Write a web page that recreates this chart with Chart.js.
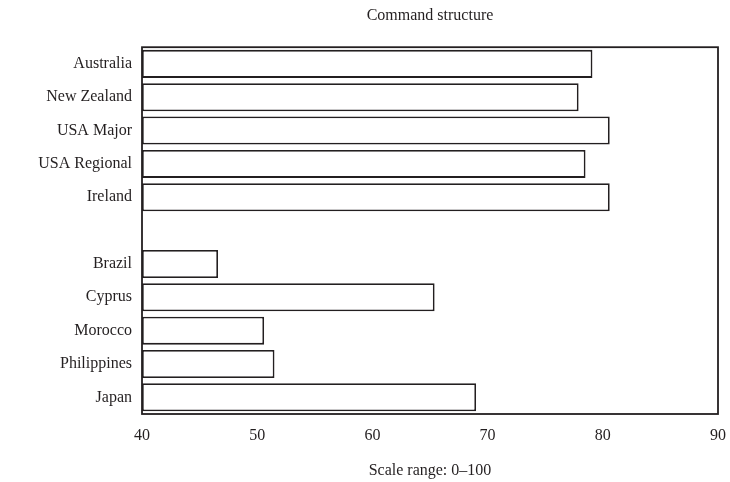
<!DOCTYPE html>
<html>
<head>
<meta charset="utf-8">
<script src="https://cdn.jsdelivr.net/npm/chart.js@4"></script>
<style>
  html, body { margin: 0; padding: 0; background: #fff; }
  #wrap { width: 730px; height: 482px; }
</style>
</head>
<body>
<div id="wrap"><canvas id="cmdChart" width="730" height="482"></canvas></div>
<script>
// categories (empty label = gap between the two groups)
const countries = ['Australia', 'New Zealand', 'USA Major', 'USA Regional', 'Ireland', '',
  'Brazil', 'Cyprus', 'Morocco', 'Philippines', 'Japan'];
const scores = [79.1, 77.9, 80.6, 78.5, 80.6, null, 46.6, 65.4, 50.6, 51.5, 69.0];
const xMin = 40, xMax = 90, xStep = 10;

const ink = '#231f20';
const serif = '"Liberation Serif", "Times New Roman", serif';

// box around the plot area
const frame = {
  id: 'frame',
  afterDatasetsDraw(chart) {
    const { ctx, chartArea: a } = chart;
    ctx.save();
    ctx.strokeStyle = ink;
    ctx.lineWidth = 1.8;
    ctx.strokeRect(a.left, a.top, a.right - a.left, a.bottom - a.top);
    ctx.restore();
  }
};

Chart.defaults.font.family = serif;
Chart.defaults.font.size = 16;
Chart.defaults.color = ink;

new Chart(document.getElementById('cmdChart').getContext('2d'), {
  type: 'bar',
  data: {
    labels: countries,
    datasets: [{
      data: scores,
      base: xMin,
      backgroundColor: '#fff',
      borderColor: ink,
      borderWidth: 1.8,
      borderSkipped: false,
      barPercentage: 0.84,
      categoryPercentage: 1
    }]
  },
  options: {
    indexAxis: 'y',
    responsive: false,
    animation: false,
    layout: { padding: { left: 0, right: 12, top: 0, bottom: 0 } },
    plugins: {
      legend: { display: false },
      tooltip: { enabled: false },
      title: {
        display: true,
        fullSize: false,
        text: 'Command structure',
        color: ink,
        font: { size: 16, weight: 'normal' },
        padding: { top: 6, bottom: 22 }
      }
    },
    scales: {
      x: {
        min: xMin,
        max: xMax,
        ticks: { stepSize: xStep, padding: 12, color: ink },
        grid: { display: false, drawTicks: false },
        border: { display: false },
        title: {
          display: true,
          text: 'Scale range: 0–100',
          color: ink,
          padding: { top: 0, bottom: 2 }
        },
        afterFit(scale) {
          scale.height = 68;
          scale.paddingLeft = 0;
          scale.paddingRight = 0;
        }
      },
      y: {
        ticks: { padding: 10, color: ink },
        grid: { display: false, drawTicks: false },
        border: { display: false },
        afterFit(scale) { scale.width = 142; }
      }
    }
  },
  plugins: [frame]
});
</script>
</body>
</html>
